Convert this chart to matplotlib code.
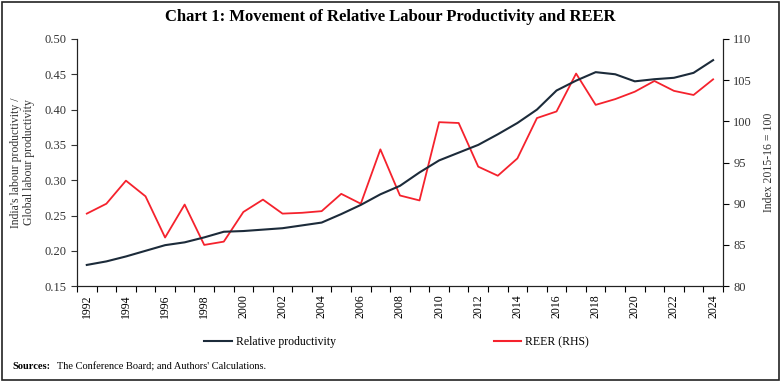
import numpy as np
import matplotlib
matplotlib.use("Agg")
from matplotlib import pyplot as plt
from matplotlib.patches import Rectangle
from matplotlib.lines import Line2D

plt.rcParams['font.family'] = ['Liberation Serif', 'DejaVu Serif']

# годы и ряды данных
years = list(range(1992, 2025))
rel_productivity = [0.180, 0.185, 0.192, 0.200, 0.208, 0.212, 0.219, 0.227, 0.228, 0.230,
                    0.232, 0.236, 0.240, 0.252, 0.265, 0.280, 0.292, 0.311, 0.328, 0.339,
                    0.350, 0.365, 0.381, 0.400, 0.427, 0.441, 0.453, 0.450, 0.440, 0.443,
                    0.445, 0.452, 0.470]
reer = [88.8, 90.0, 92.8, 90.9, 85.9, 89.9, 85.0, 85.4, 89.0, 90.5,
        88.8, 88.9, 89.1, 91.2, 90.0, 96.6, 91.0, 90.4, 99.9, 99.8,
        94.5, 93.4, 95.5, 100.4, 101.2, 105.8, 102.0, 102.7, 103.6, 104.9,
        103.7, 103.2, 105.1]
left_ticks = [0.15, 0.20, 0.25, 0.30, 0.35, 0.40, 0.45, 0.50]
right_ticks = [80, 85, 90, 95, 100, 105, 110]

navy = '#1c2b3a'
red = '#f5222d'

fig = plt.figure(figsize=(7.81, 3.82), dpi=100)
ax = fig.add_axes([0.0986, 0.251, 0.827, 0.647])
ax2 = ax.twinx()

x = np.arange(len(years))
ax.plot(x, rel_productivity, color=navy, lw=1.5, zorder=3)
ax2.plot(x, reer, color=red, lw=1.3)
ax.set_zorder(ax2.get_zorder() + 1)
ax.patch.set_visible(False)

ax.set_xlim(-0.5, len(years) - 0.5)
ax.set_ylim(0.15, 0.50)
ax2.set_ylim(80, 110)
ax.set_yticks(left_ticks)
ax.set_yticklabels([f'{v:.2f}' for v in left_ticks])
ax2.set_yticks(right_ticks)

# риски на границах категорий, подписи через год
ax.set_xticks(np.arange(-0.5, len(years), 1.0))
ax.set_xticklabels([])
ax.set_xticks(x[::2], minor=True)
ax.set_xticklabels([str(y) for y in years[::2]], minor=True, rotation=90)
ax.tick_params(axis='x', which='major', length=4, width=0.8, direction='out')
ax.tick_params(axis='x', which='minor', length=0, pad=6, labelsize=8.5)
ax.tick_params(axis='y', length=4, labelsize=9, colors='#333333', labelcolor='#333333')
ax2.tick_params(axis='y', length=4, labelsize=9, labelcolor='#333333')

for a in (ax, ax2):
    a.spines['top'].set_visible(False)
    for s in ('left', 'right', 'bottom'):
        a.spines[s].set_color('#222222')
        a.spines[s].set_linewidth(0.8)

ax.set_ylabel("India's labour productivity /\nGlobal labour productivity", fontsize=8.5,
              color='#333333', labelpad=7, linespacing=1.15)
ax2.set_ylabel('Index 2015-16 = 100', fontsize=8.5, color='#333333', labelpad=8)

fig.text(0.5, 0.955, 'Chart 1: Movement of Relative Labour Productivity and REER',
         ha='center', va='center', fontsize=12, fontweight='bold')

handles = [Line2D([], [], color=navy, lw=1.5), Line2D([], [], color=red, lw=1.5)]
fig.legend(handles, ['Relative productivity', 'REER (RHS)'], loc='center',
           bbox_to_anchor=(0.508, 0.105), ncol=2, frameon=False, fontsize=8.5,
           handlelength=2.3, columnspacing=13.4, handletextpad=0.35)

fig.text(0.016, 0.04, 'Sources:', fontsize=7.5, fontweight='bold', va='center')
fig.text(0.073, 0.04, "The Conference Board; and Authors' Calculations.", fontsize=7.5,
         va='center')

fig.patches.append(Rectangle((0.003, 0.005), 0.994, 0.99, transform=fig.transFigure,
                             fill=False, edgecolor='#222222', lw=1.2))

fig.savefig('out.png', dpi=100)
